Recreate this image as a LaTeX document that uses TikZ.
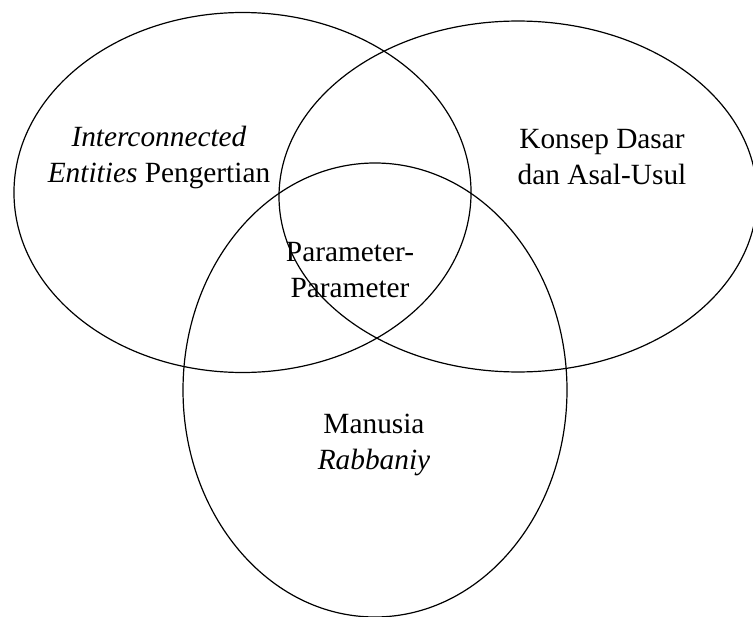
\documentclass[tikz,border=0pt]{standalone}
\usepackage{fontspec}
\setmainfont{Liberation Serif}

\begin{document}
\begin{tikzpicture}[x=0.75pt,y=-0.75pt]
        \tikzset{ring/.style={draw=black, line width=0.9pt},
                 lbl/.style={align=center, inner sep=0pt, font=\fontsize{22}{27}\selectfont}}
        \useasboundingbox (0,0) rectangle (753,617);

        \draw[ring] (242.5,192.5) ellipse [x radius=171.4pt, y radius=135pt];
        \draw[ring] (518,196.5) ellipse [x radius=179.25pt, y radius=131.6pt];
        \draw[ring] (375,390) ellipse [x radius=144pt, y radius=170.25pt];

        \node[lbl] (pengertian) at (159,157) {\textit{Interconnected}\\ \textit{Entities} Pengertian};
        \node[lbl] (konsep) at (602,157) {Konsep Dasar\\ dan Asal-Usul};
        \node[lbl] (parameter) at (350,270) {Parameter-\\ Parameter};
        \node[lbl] (manusia) at (374,445) {Manusia\\ \textit{Rabbaniy}};
    \end{tikzpicture}
\end{document}
